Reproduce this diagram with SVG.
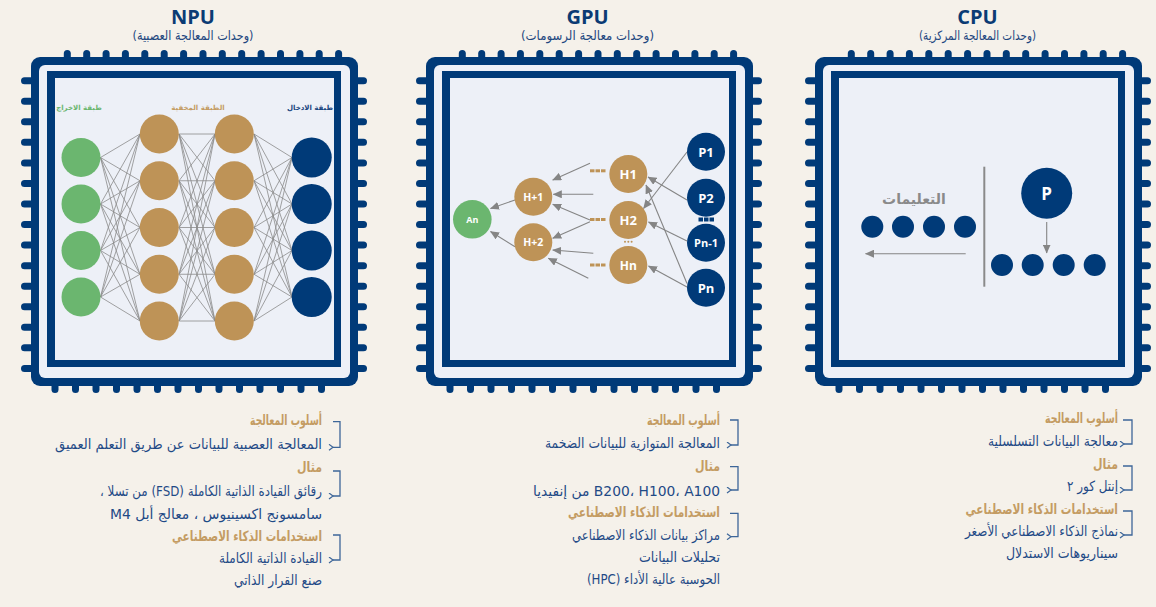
<svg xmlns="http://www.w3.org/2000/svg" width="1156" height="607" viewBox="0 0 1156 607">
<defs>
<style>
.bg{fill:#f5f1ea}
.nv{fill:#003a78}
.lt{fill:#edf0f7}
.gd{fill:#be9357}
.gr{fill:#6bb66f}
.ln{stroke:#8a8a8a;stroke-width:0.8;fill:none}
.ar{stroke:#858585;stroke-width:1.1;fill:none;marker-end:url(#ah)}
.ttl{font-family:"Open Sans","Noto Sans",sans-serif;font-weight:700;font-size:20px;fill:#0b3b74;text-anchor:middle}
.sub{font-family:"DejaVu Sans",sans-serif;font-size:13px;fill:#1e477f;text-anchor:middle;direction:rtl}
.hd{font-family:"DejaVu Sans",sans-serif;font-weight:700;font-size:14px;fill:#c49c63;direction:rtl;text-anchor:start}
.bd{font-family:"DejaVu Sans",sans-serif;font-size:14px;fill:#1f4a86;direction:rtl;text-anchor:start}
.hde{font-family:"DejaVu Sans",sans-serif;font-weight:700;font-size:14px;fill:#c49c63;text-anchor:end}
.br{stroke:#3d6699;stroke-width:1.3;fill:none;marker-end:url(#bh)}
.nl{font-family:"Open Sans","Noto Sans",sans-serif;font-weight:700;fill:#ffffff;text-anchor:middle}
.lay{font-family:"DejaVu Sans",sans-serif;font-weight:700;font-size:7px;text-anchor:middle;direction:rtl}
</style>
<marker id="ah" markerWidth="9" markerHeight="8" refX="8.5" refY="4" orient="auto" markerUnits="userSpaceOnUse"><path d="M0,0 L9,4 L0,8 z" fill="#858585"/></marker>
<marker id="bh" markerWidth="6" markerHeight="7" refX="1" refY="3.5" orient="auto" markerUnits="userSpaceOnUse"><path d="M5,0.5 L1,3.5 L5,6.5" fill="none" stroke="#3d6699" stroke-width="1.2"/></marker>
<g id="chip">
<g class="nv">
<rect x="32.8" y="-7" width="7" height="12" rx="3.5"/><rect x="52.2" y="-7" width="7" height="12" rx="3.5"/><rect x="71.6" y="-7" width="7" height="12" rx="3.5"/><rect x="90.9" y="-7" width="7" height="12" rx="3.5"/><rect x="110.3" y="-7" width="7" height="12" rx="3.5"/><rect x="129.7" y="-7" width="7" height="12" rx="3.5"/><rect x="149.1" y="-7" width="7" height="12" rx="3.5"/><rect x="168.5" y="-7" width="7" height="12" rx="3.5"/><rect x="187.8" y="-7" width="7" height="12" rx="3.5"/><rect x="207.2" y="-7" width="7" height="12" rx="3.5"/><rect x="226.6" y="-7" width="7" height="12" rx="3.5"/><rect x="246" y="-7" width="7" height="12" rx="3.5"/><rect x="265.4" y="-7" width="7" height="12" rx="3.5"/><rect x="284.7" y="-7" width="7" height="12" rx="3.5"/><rect x="304.1" y="-7" width="7" height="12" rx="3.5"/>
<rect x="20.5" y="324" width="7" height="12" rx="3.5"/><rect x="41" y="324" width="7" height="12" rx="3.5"/><rect x="61.5" y="324" width="7" height="12" rx="3.5"/><rect x="82" y="324" width="7" height="12" rx="3.5"/><rect x="102.5" y="324" width="7" height="12" rx="3.5"/><rect x="123" y="324" width="7" height="12" rx="3.5"/><rect x="143.5" y="324" width="7" height="12" rx="3.5"/><rect x="164" y="324" width="7" height="12" rx="3.5"/><rect x="184.5" y="324" width="7" height="12" rx="3.5"/><rect x="205" y="324" width="7" height="12" rx="3.5"/><rect x="225.5" y="324" width="7" height="12" rx="3.5"/><rect x="246" y="324" width="7" height="12" rx="3.5"/><rect x="266.5" y="324" width="7" height="12" rx="3.5"/><rect x="287" y="324" width="7" height="12" rx="3.5"/>
<rect x="-10" y="20.2" width="13" height="7" rx="3.5"/><rect x="-10" y="40.75" width="13" height="7" rx="3.5"/><rect x="-10" y="61.3" width="13" height="7" rx="3.5"/><rect x="-10" y="81.85" width="13" height="7" rx="3.5"/><rect x="-10" y="102.4" width="13" height="7" rx="3.5"/><rect x="-10" y="122.95" width="13" height="7" rx="3.5"/><rect x="-10" y="143.5" width="13" height="7" rx="3.5"/><rect x="-10" y="164.05" width="13" height="7" rx="3.5"/><rect x="-10" y="184.6" width="13" height="7" rx="3.5"/><rect x="-10" y="205.15" width="13" height="7" rx="3.5"/><rect x="-10" y="225.7" width="13" height="7" rx="3.5"/><rect x="-10" y="246.25" width="13" height="7" rx="3.5"/><rect x="-10" y="266.8" width="13" height="7" rx="3.5"/><rect x="-10" y="287.35" width="13" height="7" rx="3.5"/><rect x="-10" y="307.9" width="13" height="7" rx="3.5"/>
<rect x="324" y="20.2" width="12" height="7" rx="3.5"/><rect x="324" y="40.75" width="12" height="7" rx="3.5"/><rect x="324" y="61.3" width="12" height="7" rx="3.5"/><rect x="324" y="81.85" width="12" height="7" rx="3.5"/><rect x="324" y="102.4" width="12" height="7" rx="3.5"/><rect x="324" y="122.95" width="12" height="7" rx="3.5"/><rect x="324" y="143.5" width="12" height="7" rx="3.5"/><rect x="324" y="164.05" width="12" height="7" rx="3.5"/><rect x="324" y="184.6" width="12" height="7" rx="3.5"/><rect x="324" y="205.15" width="12" height="7" rx="3.5"/><rect x="324" y="225.7" width="12" height="7" rx="3.5"/><rect x="324" y="246.25" width="12" height="7" rx="3.5"/><rect x="324" y="266.8" width="12" height="7" rx="3.5"/><rect x="324" y="287.35" width="12" height="7" rx="3.5"/><rect x="324" y="307.9" width="12" height="7" rx="3.5"/>
<rect width="327" height="329" rx="9"/>
</g>
<rect x="8" y="8" width="311" height="313" rx="6" class="lt"/>
<rect x="16" y="14" width="294" height="296" class="nv"/>
<rect x="24" y="21" width="279" height="282" class="lt"/>
</g>
</defs>
<rect width="1156" height="607" class="bg"/>

<!-- Titles -->
<g id="titles">
<text class="ttl" x="193" y="24">NPU</text>
<text class="sub" x="193" y="40" textLength="121" lengthAdjust="spacingAndGlyphs">(وحدات المعالجة العصبية)</text>
<text class="ttl" x="587.5" y="24">GPU</text>
<text class="sub" x="587.5" y="40" textLength="133" lengthAdjust="spacingAndGlyphs">(وحدات معالجة الرسومات)</text>
<text class="ttl" x="977.5" y="24">CPU</text>
<text class="sub" x="977.5" y="40" textLength="117" lengthAdjust="spacingAndGlyphs">(وحدات المعالجة المركزية)</text>
</g>

<!-- Chips -->
<g id="chip-npu"><use href="#chip" x="31" y="57"/></g>
<g id="chip-gpu"><use href="#chip" x="426" y="57"/></g>
<g id="chip-cpu"><use href="#chip" x="815" y="57"/></g>

<!-- Connectors -->
<g id="connectors">
<path class="ln" d="M100.5 157.5L140 134M100.5 157.5L140 180.75M100.5 157.5L140 227.5M100.5 157.5L140 274.25M100.5 157.5L140 321"/>
<path class="ln" d="M100.5 204L140 134M100.5 204L140 180.75M100.5 204L140 227.5M100.5 204L140 274.25M100.5 204L140 321"/>
<path class="ln" d="M100.5 250.5L140 134M100.5 250.5L140 180.75M100.5 250.5L140 227.5M100.5 250.5L140 274.25M100.5 250.5L140 321"/>
<path class="ln" d="M100.5 297L140 134M100.5 297L140 180.75M100.5 297L140 227.5M100.5 297L140 274.25M100.5 297L140 321"/>
<path class="ln" d="M179 134L215 134M179 134L215 180.75M179 134L215 227.5M179 134L215 274.25M179 134L215 321"/>
<path class="ln" d="M179 180.75L215 134M179 180.75L215 180.75M179 180.75L215 227.5M179 180.75L215 274.25M179 180.75L215 321"/>
<path class="ln" d="M179 227.5L215 134M179 227.5L215 180.75M179 227.5L215 227.5M179 227.5L215 274.25M179 227.5L215 321"/>
<path class="ln" d="M179 274.25L215 134M179 274.25L215 180.75M179 274.25L215 227.5M179 274.25L215 274.25M179 274.25L215 321"/>
<path class="ln" d="M179 321L215 134M179 321L215 180.75M179 321L215 227.5M179 321L215 274.25M179 321L215 321"/>
<path class="ln" d="M254 134L292 157.5M254 134L292 204M254 134L292 250.5M254 134L292 297"/>
<path class="ln" d="M254 180.75L292 157.5M254 180.75L292 204M254 180.75L292 250.5M254 180.75L292 297"/>
<path class="ln" d="M254 227.5L292 157.5M254 227.5L292 204M254 227.5L292 250.5M254 227.5L292 297"/>
<path class="ln" d="M254 274.25L292 157.5M254 274.25L292 204M254 274.25L292 250.5M254 274.25L292 297"/>
<path class="ln" d="M254 321L292 157.5M254 321L292 204M254 321L292 250.5M254 321L292 297"/>

<path class="ar" d="M687 152L643.5 208.5"/>
<path class="ar" d="M687 200L648 177"/>
<path class="ar" d="M687 241L648.5 222"/>
<path class="ar" d="M687 283.5L646 185"/>
<path class="ar" d="M687 287L648.5 266"/>
<path class="ar" d="M590 163.3L552.7 180"/>
<path class="ar" d="M593.3 194.3L553.3 194.3"/>
<path class="ar" d="M590 220L552.7 204.3"/>
<path class="ar" d="M590 221.7L552.7 238.3"/>
<path class="ar" d="M593.3 253.3L552.7 250"/>
<path class="ar" d="M588.3 278.3L548.3 258.3"/>
<path class="ar" d="M515 200L490.5 208.5"/>
<path class="ar" d="M515 246.7L490.5 231.5"/>

<path d="M984.3 166.7V286.7" stroke="#8a8a8a" stroke-width="2" fill="none"/>
<path class="ar" d="M1046.7 222V253"/>
<path class="ar" d="M965.7 253.7H865.5"/>

<path class="br" d="M333 421.7H340V447.3H333"/>
<path class="br" d="M333 471H340V496H333"/>
<path class="br" d="M333 535H340V560H333"/>
<path class="br" d="M730 420H738V445H731"/>
<path class="br" d="M730 466.7H738V490H731"/>
<path class="br" d="M730 513.3H738V536.7H731"/>
<path class="br" d="M1123 420H1132V444H1124"/>
<path class="br" d="M1123 466H1132V490H1124"/>
<path class="br" d="M1123 511H1132V535H1124"/>
</g>

<!-- NPU nodes -->
<g id="npu-labels">
<text class="lay" x="79" y="110" fill="#6bb66f">طبقة الاخراج</text>
<text class="lay" x="198" y="110" fill="#c49c63">الطبقة المخفية</text>
<text class="lay" x="310" y="110" fill="#1a4680">طبقة الادخال</text>
</g>
<g id="npu-out1"><circle class="gr" cx="81" cy="157.5" r="19.5"/></g>
<g id="npu-out2"><circle class="gr" cx="81" cy="204" r="19.5"/></g>
<g id="npu-out3"><circle class="gr" cx="81" cy="250.5" r="19.5"/></g>
<g id="npu-out4"><circle class="gr" cx="81" cy="297" r="19.5"/></g>
<g id="npu-h1a"><circle class="gd" cx="159.3" cy="134" r="19.5"/></g>
<g id="npu-h1b"><circle class="gd" cx="159.3" cy="180.75" r="19.5"/></g>
<g id="npu-h1c"><circle class="gd" cx="159.3" cy="227.5" r="19.5"/></g>
<g id="npu-h1d"><circle class="gd" cx="159.3" cy="274.25" r="19.5"/></g>
<g id="npu-h1e"><circle class="gd" cx="159.3" cy="321" r="19.5"/></g>
<g id="npu-h2a"><circle class="gd" cx="234.3" cy="134" r="19.5"/></g>
<g id="npu-h2b"><circle class="gd" cx="234.3" cy="180.75" r="19.5"/></g>
<g id="npu-h2c"><circle class="gd" cx="234.3" cy="227.5" r="19.5"/></g>
<g id="npu-h2d"><circle class="gd" cx="234.3" cy="274.25" r="19.5"/></g>
<g id="npu-h2e"><circle class="gd" cx="234.3" cy="321" r="19.5"/></g>
<g id="npu-in1"><circle class="nv" cx="311.7" cy="157.5" r="20"/></g>
<g id="npu-in2"><circle class="nv" cx="311.7" cy="204" r="20"/></g>
<g id="npu-in3"><circle class="nv" cx="311.7" cy="250.5" r="20"/></g>
<g id="npu-in4"><circle class="nv" cx="311.7" cy="297" r="20"/></g>

<!-- GPU nodes -->
<g id="gpu-p1"><circle class="nv" cx="706" cy="151.7" r="19"/><text class="nl" x="706" y="156.5" font-size="13">P1</text></g>
<g id="gpu-p2"><circle class="nv" cx="706" cy="197.7" r="19"/><text class="nl" x="706" y="202.5" font-size="13">P2</text></g>
<g id="gpu-pdots" class="nv"><rect x="698.5" y="217.5" width="4.5" height="4"/><rect x="704" y="217.5" width="4.5" height="4"/><rect x="709.5" y="217.5" width="4.5" height="4"/></g>
<g id="gpu-pn1"><circle class="nv" cx="706" cy="242.7" r="19"/><text class="nl" x="706" y="246.7" font-size="11">Pn-1</text></g>
<g id="gpu-pn"><circle class="nv" cx="706" cy="287.7" r="19"/><text class="nl" x="706" y="292.5" font-size="13">Pn</text></g>
<g id="gpu-h1"><circle class="gd" cx="628.3" cy="174" r="19"/><text class="nl" x="628.3" y="178.8" font-size="13">H1</text><g class="gd"><rect x="590" y="169.3" width="4.5" height="3"/><rect x="595.5" y="169.3" width="4.5" height="3"/><rect x="601" y="169.3" width="4.5" height="3"/></g></g>
<g id="gpu-h2"><circle class="gd" cx="628.3" cy="220" r="19"/><text class="nl" x="628.3" y="224.8" font-size="13">H2</text><g class="gd"><rect x="590" y="218" width="4.5" height="3"/><rect x="595.5" y="218" width="4.5" height="3"/><rect x="601" y="218" width="4.5" height="3"/></g></g>
<g id="gpu-hdots" class="gd"><circle cx="625" cy="241.7" r="1"/><circle cx="628.3" cy="241.7" r="1"/><circle cx="631.6" cy="241.7" r="1"/></g>
<g id="gpu-hn"><circle class="gd" cx="628.3" cy="265" r="19"/><text class="nl" x="628.3" y="269.5" font-size="12">Hn</text><g class="gd"><rect x="590" y="263.5" width="4.5" height="3"/><rect x="595.5" y="263.5" width="4.5" height="3"/><rect x="601" y="263.5" width="4.5" height="3"/></g></g>
<g id="gpu-hp1"><circle class="gd" cx="533.3" cy="196.7" r="19"/><text class="nl" x="533.3" y="200.5" font-size="10.5">H+1</text></g>
<g id="gpu-hp2"><circle class="gd" cx="533.3" cy="242.3" r="19"/><text class="nl" x="533.3" y="246.1" font-size="10.5">H+2</text></g>
<g id="gpu-an"><circle class="gr" cx="472.3" cy="219.3" r="19.3"/><text class="nl" x="472.3" y="222.5" font-size="9">An</text></g>

<!-- CPU nodes -->
<g id="cpu-p"><circle class="nv" cx="1046.7" cy="193.3" r="25.5"/><text class="nl" x="1046.7" y="199.5" font-size="17">P</text></g>
<g id="cpu-queue" class="nv"><circle cx="1002" cy="265" r="11"/><circle cx="1032.7" cy="265" r="11"/><circle cx="1063.7" cy="265" r="11"/><circle cx="1094.7" cy="265" r="11"/></g>
<g id="cpu-instructions"><text x="914" y="204" font-family="DejaVu Sans,sans-serif" font-weight="700" font-size="14" fill="#8a8a8a" text-anchor="middle" direction="rtl">التعليمات</text>
<g class="nv"><circle cx="872.3" cy="226.7" r="11"/><circle cx="903" cy="226.7" r="11"/><circle cx="934" cy="226.7" r="11"/><circle cx="965" cy="226.7" r="11"/></g></g>

<!-- Text blocks -->
<g id="npu-text">
<text class="hd" x="322" y="425" textLength="72" lengthAdjust="spacingAndGlyphs">أسلوب المعالجة</text>
<text class="bd" x="322" y="449" textLength="267" lengthAdjust="spacingAndGlyphs">المعالجة العصبية للبيانات عن طريق التعلم العميق</text>
<text class="hd" x="322" y="472" textLength="25" lengthAdjust="spacingAndGlyphs">مثال</text>
<text class="bd" x="322" y="496" textLength="222" lengthAdjust="spacingAndGlyphs">رقائق القيادة الذاتية الكاملة (FSD) من تسلا ،</text>
<text class="bd" x="322" y="519" textLength="212" lengthAdjust="spacingAndGlyphs">سامسونج اكسينيوس ،  معالج أبل M4</text>
<text class="hd" x="322" y="541" textLength="150" lengthAdjust="spacingAndGlyphs">استخدامات الذكاء الاصطناعي</text>
<text class="bd" x="322" y="563" textLength="103" lengthAdjust="spacingAndGlyphs">القيادة الذاتية الكاملة</text>
<text class="bd" x="322" y="585" textLength="88" lengthAdjust="spacingAndGlyphs">صنع القرار الذاتي</text>
</g>
<g id="gpu-text">
<text class="hd" x="720" y="425" textLength="73" lengthAdjust="spacingAndGlyphs">أسلوب المعالجة</text>
<text class="bd" x="720" y="448" textLength="175" lengthAdjust="spacingAndGlyphs">المعالجة المتوازية للبيانات الضخمة</text>
<text class="hd" x="720" y="471" textLength="25" lengthAdjust="spacingAndGlyphs">مثال</text>
<text class="bd" x="720" y="496" textLength="187" lengthAdjust="spacingAndGlyphs">B200، H100، A100 من إنفيديا</text>
<text class="hd" x="720" y="517" textLength="152" lengthAdjust="spacingAndGlyphs">استخدامات الذكاء الاصطناعي</text>
<text class="bd" x="720" y="540" textLength="148" lengthAdjust="spacingAndGlyphs">مراكز بيانات الذكاء الاصطناعي</text>
<text class="bd" x="720" y="562" textLength="81" lengthAdjust="spacingAndGlyphs">تحليلات البيانات</text>
<text class="bd" x="720" y="584" textLength="133" lengthAdjust="spacingAndGlyphs">الحوسبة عالية الأداء (HPC)</text>
</g>
<g id="cpu-text">
<text class="hd" x="1118" y="423" textLength="73" lengthAdjust="spacingAndGlyphs">أسلوب المعالجة</text>
<text class="bd" x="1118" y="446" textLength="130" lengthAdjust="spacingAndGlyphs">معالجة البيانات التسلسلية</text>
<text class="hd" x="1118" y="469" textLength="25" lengthAdjust="spacingAndGlyphs">مثال</text>
<text class="bd" x="1118" y="491" textLength="51" lengthAdjust="spacingAndGlyphs">إنتل كور ٢</text>
<text class="hde" transform="translate(1118 514) scale(0.76 1)">استخدامات الذكاء الاصطناعي</text>
<text class="bd" x="1118" y="536" textLength="153" lengthAdjust="spacingAndGlyphs">نماذج الذكاء الاصطناعي الأصغر</text>
<text class="bd" x="1118" y="558" textLength="112" lengthAdjust="spacingAndGlyphs">سيناريوهات الاستدلال</text>
</g>
</svg>
